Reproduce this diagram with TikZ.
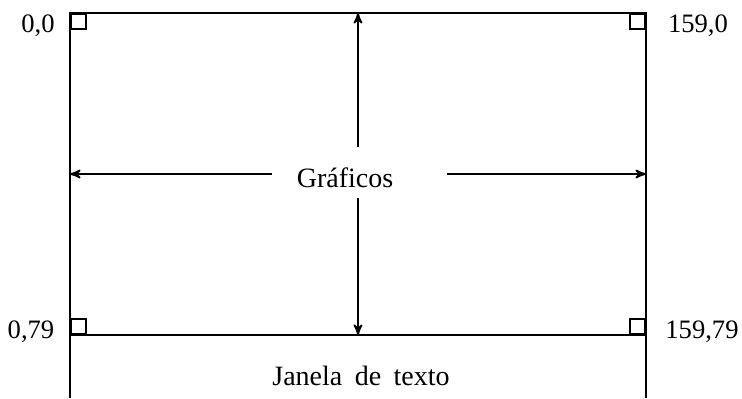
\documentclass[tikz,border=0pt]{standalone}
\usepackage{fontspec}
\setmainfont{Liberation Serif}
\usetikzlibrary{arrows}

\begin{document}
\begin{tikzpicture}[x=0.5pt,y=-0.5pt,>=stealth',line width=0.9pt]
        \tikzstyle{corner}=[draw,rectangle,line width=0.8pt,minimum size=7.5pt,inner sep=0pt]
        \tikzstyle{coord}=[font=\fontsize{13.3}{15}\selectfont,inner sep=0pt]
        \tikzstyle{title}=[font=\fontsize{14}{16}\selectfont,inner sep=0pt]
        \useasboundingbox (0,0) rectangle (742,398);

        \coordinate (tl) at (70,13);
        \coordinate (tr) at (646,13);
        \coordinate (ml) at (70,335);
        \coordinate (mr) at (646,335);
        \coordinate (bl) at (70,398);
        \coordinate (br) at (646,398);

        \draw (bl) -- (tl) -- (tr) -- (br); %frame
        \draw (ml) -- (mr); %split

        \node [corner, anchor=north west] (c1) at (tl) {};
        \node [corner, anchor=north east] (c2) at (tr) {};
        \node [corner, anchor=south west] (c3) at (ml) {};
        \node [corner, anchor=south east] (c4) at (mr) {};

        \node [coord] (l1) at (38,26) {0,0};
        \node [coord] (l2) at (698,26) {159,0};
        \node [coord] (l3) at (31,332) {0,79};
        \node [coord] (l4) at (702,332) {159,79};

        \node [title] (graf) at (345,178) {Gráficos};
        \node [title] (jan) at (361,376) {\spaceskip=6.2pt Janela de texto};

        \coordinate (vt) at (358,13);
        \coordinate (vb) at (358,335);
        \coordinate (hl) at (70,174);
        \coordinate (hr) at (646,174);
        \coordinate (gt) at (358,147); %gaps round the text
        \coordinate (gb) at (358,198);
        \coordinate (gl) at (272,174);
        \coordinate (gr) at (447,174);

        \draw [->] (gt) -- (vt);
        \draw [->] (gb) -- (vb);
        \draw [->] (gl) -- (hl);
        \draw [->] (gr) -- (hr);
\end{tikzpicture}
\end{document}
